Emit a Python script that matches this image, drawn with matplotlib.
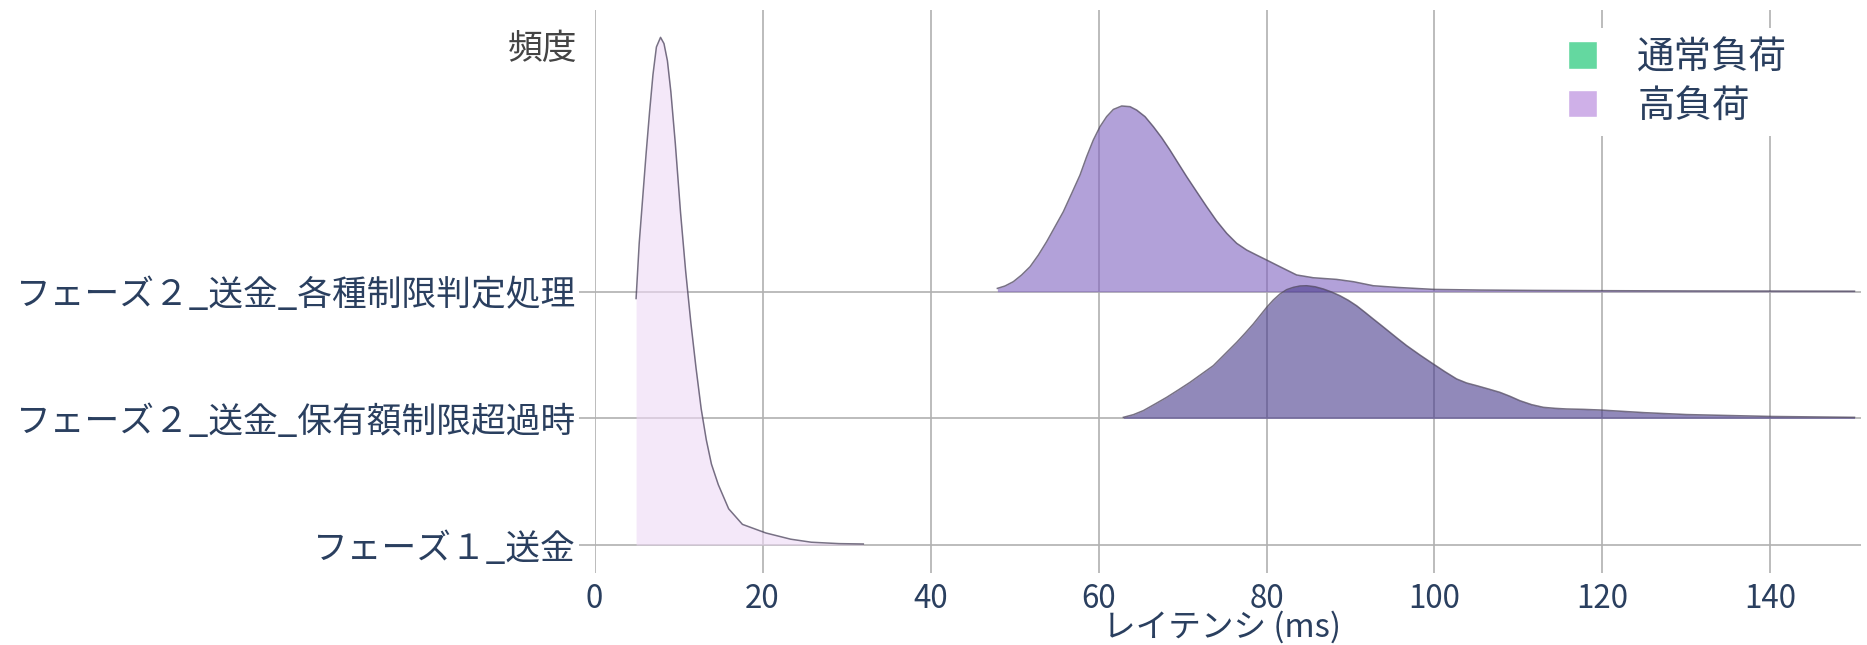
import matplotlib.pyplot as plt
import matplotlib.patches as mpatches

plt.rcParams['font.family'] = ['Noto Sans CJK JP', 'DejaVu Sans']

# categories, bottom to top
phases = ['フェーズ１_送金',
          'フェーズ２_送金_保有額制限超過時',
          'フェーズ２_送金_各種制限判定処理']

# latency (ms) / density height of each ridge
x_p1 = [4.95, 5.32, 5.73, 6.14, 6.55, 6.96, 7.37, 7.86, 8.27, 8.68, 9.09,
        9.62, 10.24, 10.85, 11.47, 12.08, 12.70, 13.31, 13.92, 14.74, 15.97,
        17.61, 20.40, 23.35, 25.81, 29.09, 32.0]
h_p1 = [1.946, 2.381, 2.735, 3.088, 3.415, 3.714, 3.932, 4.008, 3.959, 3.823,
        3.578, 3.170, 2.626, 2.163, 1.755, 1.401, 1.075, 0.830, 0.639, 0.476,
        0.286, 0.163, 0.095, 0.046, 0.022, 0.011, 0.008]

x_hold = [62.96, 64.15, 65.34, 66.73, 68.12, 69.50, 70.89, 72.28, 73.67,
          75.06, 76.45, 77.44, 78.43, 79.23, 80.02, 80.81, 81.61, 82.40, 83.19,
          83.99, 84.78, 85.77, 86.77, 87.76, 88.75, 89.74, 90.73, 91.73, 92.72,
          93.71, 94.70, 95.69, 96.69, 98.27, 99.86, 101.25, 102.64, 103.83,
          105.02, 106.41, 107.80, 108.99, 110.18, 111.57, 112.96, 114.35,
          115.73, 117.72, 119.70, 125, 130, 140, 150]
h_hold = [0.008, 0.029, 0.061, 0.113, 0.166, 0.224, 0.284, 0.350, 0.416, 0.508,
          0.600, 0.671, 0.745, 0.811, 0.876, 0.934, 0.982, 1.016, 1.034, 1.045,
          1.047, 1.039, 1.021, 0.997, 0.968, 0.932, 0.889, 0.837, 0.784, 0.732,
          0.679, 0.626, 0.574, 0.500, 0.429, 0.368, 0.311, 0.279, 0.258, 0.232,
          0.205, 0.174, 0.139, 0.108, 0.087, 0.079, 0.074, 0.071, 0.066, 0.045,
          0.030, 0.015, 0.008]

x_limit = [47.96, 48.87, 49.86, 50.85, 51.85, 52.84, 53.83, 54.82, 55.81,
           56.81, 57.80, 58.59, 59.38, 60.18, 60.97, 61.77, 62.76, 63.75, 64.54,
           65.54, 66.53, 67.52, 68.51, 69.50, 70.50, 71.69, 72.88, 74.07, 75.26,
           76.45, 77.64, 78.83, 80.02, 81.61, 83.59, 85.58, 88.35, 90.34, 92.72,
           95.50, 99.94, 105.42, 112, 120, 130, 140, 150]
h_limit = [0.026, 0.045, 0.079, 0.132, 0.197, 0.289, 0.395, 0.513, 0.631,
           0.776, 0.921, 1.066, 1.197, 1.303, 1.382, 1.439, 1.466, 1.461, 1.434,
           1.382, 1.303, 1.216, 1.118, 1.013, 0.908, 0.789, 0.671, 0.558, 0.461,
           0.382, 0.329, 0.289, 0.250, 0.197, 0.132, 0.110, 0.097, 0.079, 0.047,
           0.034, 0.018, 0.013, 0.010, 0.008, 0.006, 0.005, 0.004]

xticks = [0, 20, 40, 60, 80, 100, 120, 140]
legend_labels = ['通常負荷', '高負荷']

ridges = [(x_p1, h_p1), (x_hold, h_hold), (x_limit, h_limit)]
fills = ['#eed9f5', '#483a8c', '#8062c0']
navy = '#2a3f5f'
grid = '#b0b0b0'

fig = plt.figure(figsize=(18.67, 6.45), dpi=100)
ax = fig.add_axes([0.31843, 0.11163, 0.67847, 0.87287])

# top ridge first so lower ones overlap it
for i in [2, 1, 0]:
    x, h = ridges[i]
    top = [i + v for v in h]
    ax.fill_between(x, i, top, color=fills[i], alpha=0.6, lw=0, zorder=2)
    ax.plot(x, top, color='#4b435c', alpha=0.75, lw=1.1, zorder=3,
            solid_joinstyle='round')

ax.set_xlim(0, 150.8)
ax.set_ylim(-0.221, 4.224)
ax.set_xticks(xticks)
ax.set_yticks(range(len(phases)))
ax.set_yticklabels(phases)
ax.grid(True, color=grid, lw=1.2, zorder=0)
ax.set_axisbelow(True)
for s in ax.spines.values():
    s.set_visible(False)
ax.tick_params(axis='y', length=11.5, width=1.2, color=grid, pad=2,
               labelsize=25, labelcolor=navy)
ax.tick_params(axis='x', length=0, pad=7, labelsize=22.5, labelcolor=navy)

fig.text(577 / 1867, 1 - 49 / 645, '頻度', ha='right', va='center',
         fontsize=25, color='#444444')
fig.text(1222 / 1867, 1 - 644 / 645, 'レイテンシ (ms)', ha='center',
         va='bottom', fontsize=23.5, color=navy)

handles = [mpatches.Patch(facecolor='#64d8a0', edgecolor='white', lw=1),
           mpatches.Patch(facecolor='#cfb0e8', edgecolor='white', lw=1)]
leg = fig.legend(handles, legend_labels, loc='upper left',
                 bbox_to_anchor=(1558 / 1867, 1 - 28 / 645), borderaxespad=0,
                 fontsize=27, labelcolor=navy, frameon=True, facecolor='white',
                 edgecolor='none', framealpha=1, fancybox=False,
                 handlelength=0.77, handleheight=0.75, handletextpad=1.07,
                 labelspacing=0.25, borderpad=0.27)

fig.savefig('out.png', dpi=100)
